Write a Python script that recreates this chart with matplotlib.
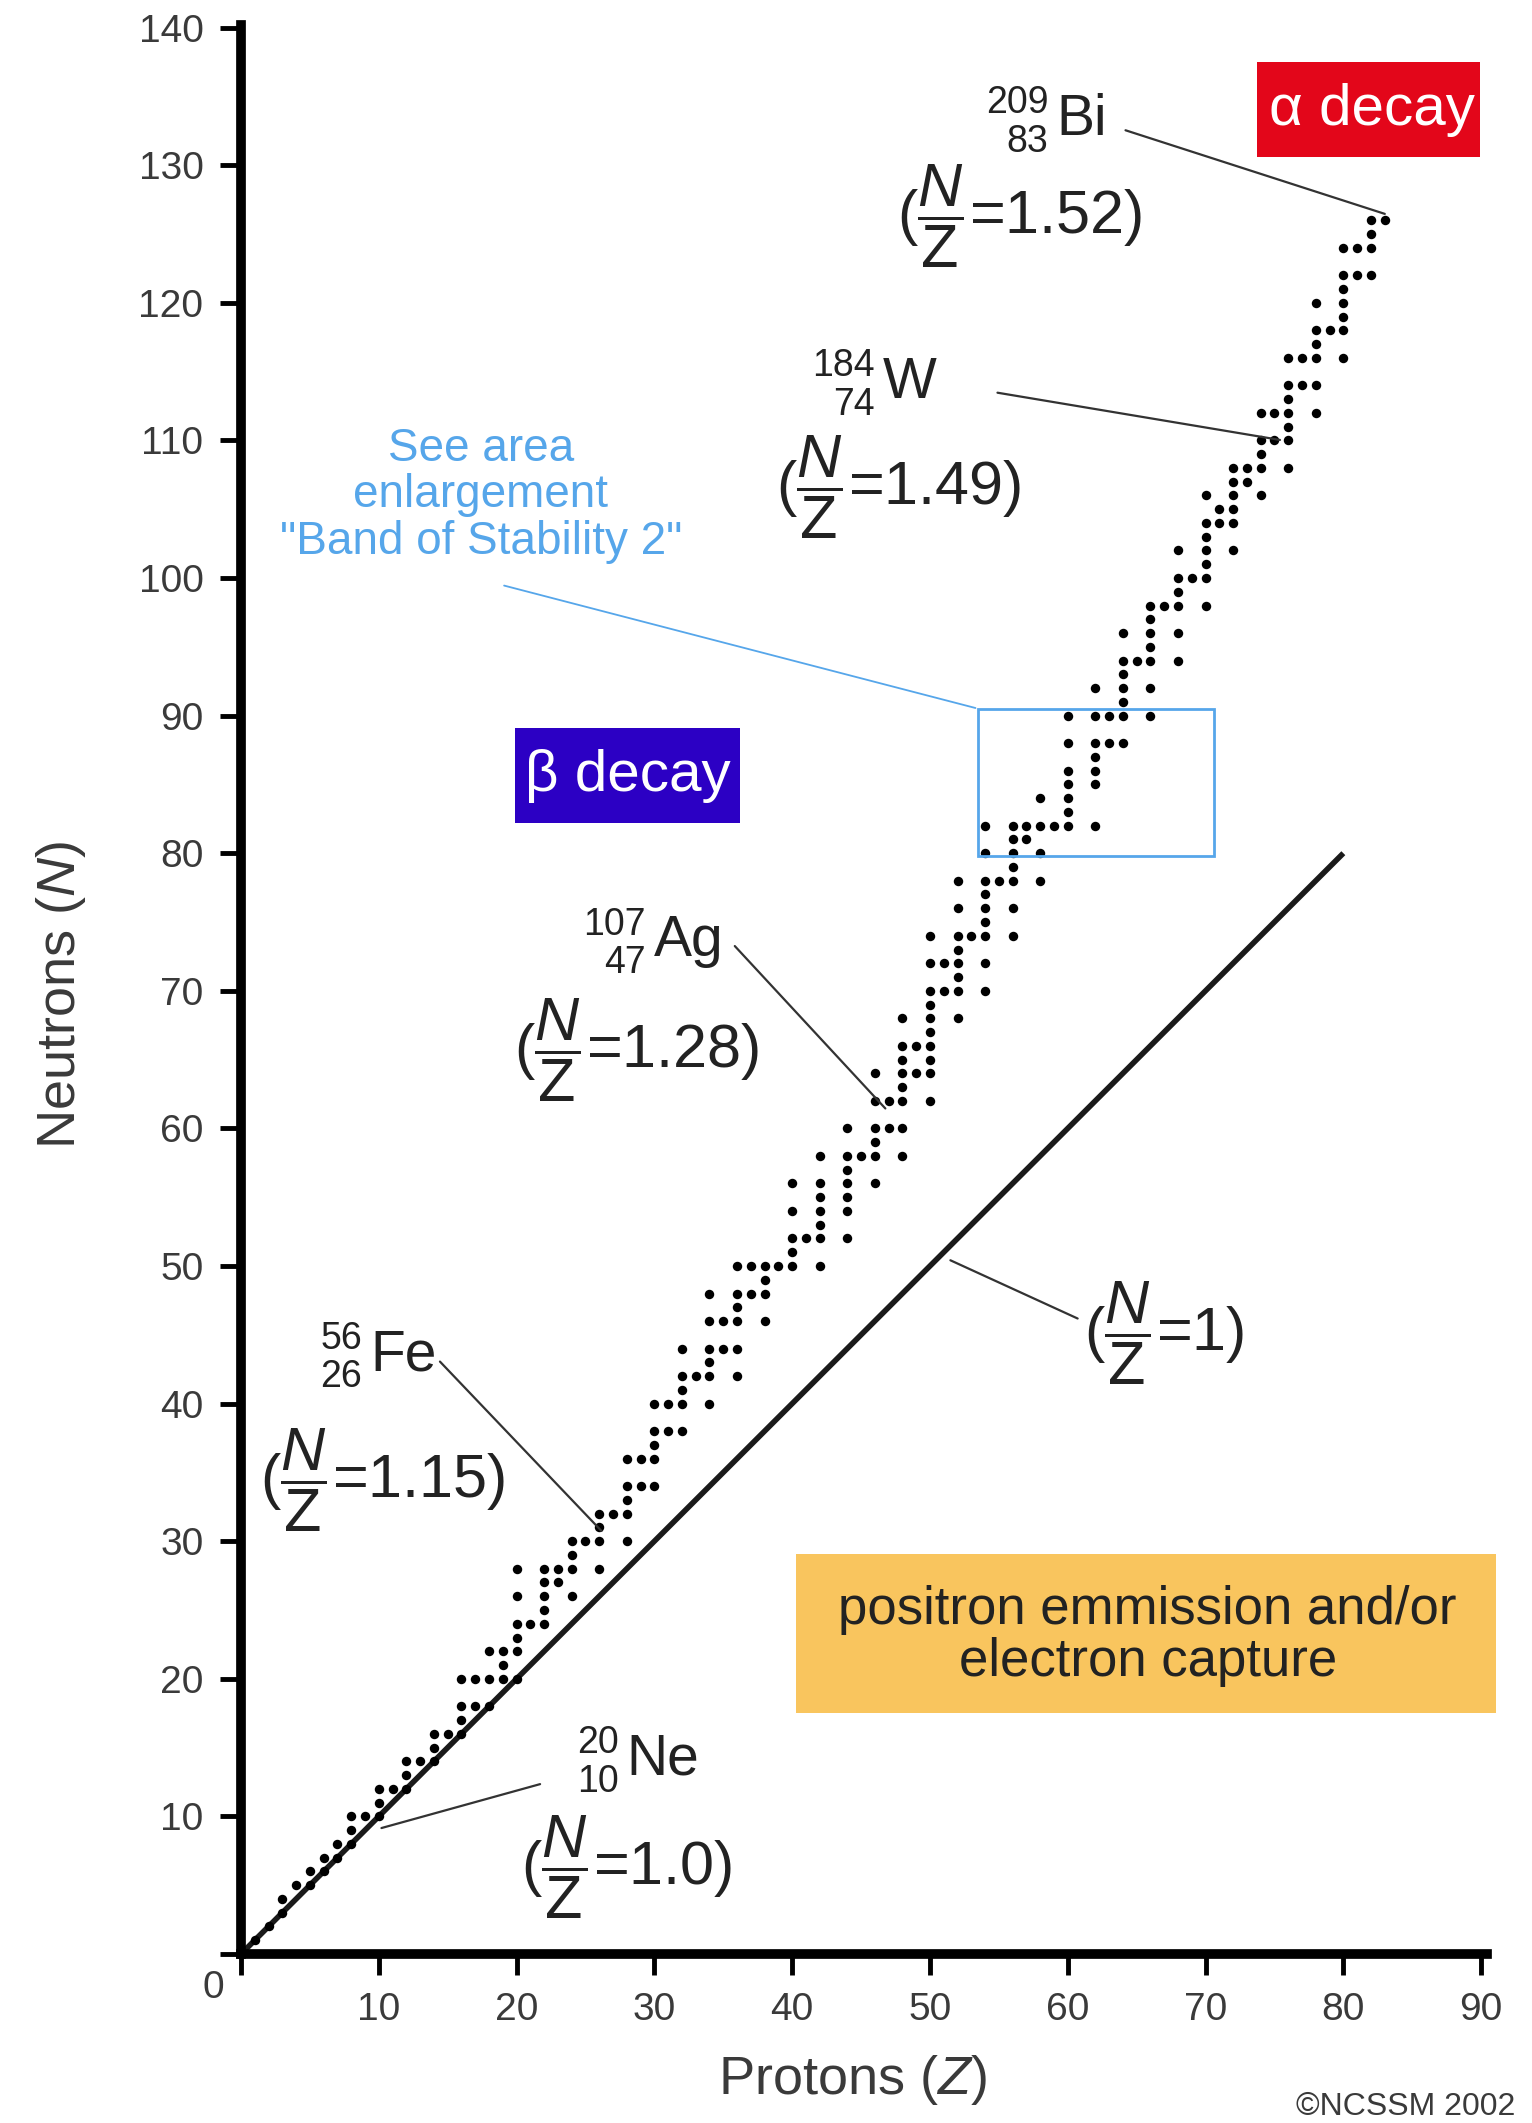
"""
Band of stability: neutrons vs protons for the stable nuclides
"""

import matplotlib.pyplot as plt
from matplotlib.patches import Rectangle

# ==========================================================
# Data
# ==========================================================

# neutron numbers of the stable nuclides, one list per element, Z = 1 .. 83
stable_neutrons = [
    [1], [2], [3, 4], [5], [5, 6], [6, 7], [7, 8], [8, 9, 10], [10],
    [10, 11, 12], [12], [12, 13, 14], [14], [14, 15, 16], [16],
    [16, 17, 18, 20], [18, 20], [18, 20, 22], [20, 21, 22],
    [20, 22, 23, 24, 26, 28], [24], [24, 25, 26, 27, 28], [27, 28],
    [26, 28, 29, 30], [30], [28, 30, 31, 32], [32], [30, 32, 33, 34, 36],
    [34, 36], [34, 36, 37, 38, 40], [38, 40], [38, 40, 41, 42, 44], [42],
    [40, 42, 43, 44, 46, 48], [44, 46], [42, 44, 46, 47, 48, 50], [48, 50],
    [46, 48, 49, 50], [50], [50, 51, 52, 54, 56], [52],
    [50, 52, 53, 54, 55, 56, 58], [], [52, 54, 55, 56, 57, 58, 60], [58],
    [56, 58, 59, 60, 62, 64], [60, 62], [58, 60, 62, 63, 64, 65, 66, 68],
    [64, 66], [62, 64, 65, 66, 67, 68, 69, 70, 72, 74], [70, 72],
    [68, 70, 71, 72, 73, 74, 76, 78], [74],
    [70, 72, 74, 75, 76, 77, 78, 80, 82], [78],
    [74, 76, 78, 79, 80, 81, 82], [81, 82], [78, 80, 82, 84], [82],
    [82, 83, 84, 85, 86, 88, 90], [], [82, 85, 86, 87, 88, 90, 92],
    [88, 90], [88, 90, 91, 92, 93, 94, 96], [94],
    [90, 92, 94, 95, 96, 97, 98], [98], [94, 96, 98, 99, 100, 102], [100],
    [98, 100, 101, 102, 103, 104, 106], [104, 105],
    [102, 104, 105, 106, 107, 108], [107, 108], [106, 108, 109, 110, 112],
    [110, 112], [108, 110, 111, 112, 113, 114, 116], [114, 116],
    [112, 114, 116, 117, 118, 120], [118],
    [116, 118, 119, 120, 121, 122, 124], [122, 124], [122, 124, 125, 126],
    [126],
]

x_ticks = [10, 20, 30, 40, 50, 60, 70, 80, 90]
y_ticks = [10, 20, 30, 40, 50, 60, 70, 80, 90, 100, 110, 120, 130, 140]

# N = Z reference line
ratio_one_z = [0, 80]
ratio_one_n = [0, 80]

# labelled nuclides: mass number, atomic number, symbol, N/Z text
iso_mass = ["209", "184", "107", "56", "20"]
iso_number = ["83", "74", "47", "26", "10"]
iso_symbol = ["Bi", "W", "Ag", "Fe", "Ne"]
iso_ratio = ["1.52", "1.49", "1.28", "1.15", "1.0"]

# ==========================================================
# Fonts
# ==========================================================

plt.rcParams["font.family"] = ["Liberation Sans", "DejaVu Sans"]
plt.rcParams["mathtext.fontset"] = "custom"
plt.rcParams["mathtext.rm"] = "Liberation Sans"
plt.rcParams["mathtext.it"] = "Liberation Sans:italic"
plt.rcParams["mathtext.bf"] = "Liberation Sans:bold"

TEXT = "#222222"
GREY = "#3a3a3a"
LIGHT_BLUE = "#56a6ea"

# ==========================================================
# Figure
# ==========================================================

fig = plt.figure(figsize=(15.32, 21.23), dpi=100)
ax = fig.add_axes([0.1573, 0.0796, 0.8131, 0.9087])

ax.set_xlim(0, 90.4)
ax.set_ylim(0, 140.2)

for side in ["top", "right"]:
    ax.spines[side].set_visible(False)
for side in ["left", "bottom"]:
    ax.spines[side].set_linewidth(7)
    ax.spines[side].set_color("black")

ax.set_xticks([0] + x_ticks)
ax.set_xticklabels([""] + [str(v) for v in x_ticks])
ax.set_yticks([0] + y_ticks)
ax.set_yticklabels([""] + [str(v) for v in y_ticks])
ax.tick_params(length=15, width=3.5, pad=12, labelsize=28,
               labelcolor=GREY, color="black")
ax.text(-2.0, -2.5, "0", fontsize=28, color=GREY,
        ha="center", va="center", clip_on=False)

ax.set_xlabel(r"Protons ($\mathit{Z}$)", fontsize=39, color=GREY)
ax.xaxis.set_label_coords(0.491, -0.0653)
ax.xaxis.label.set_va("center")
ax.set_ylabel(r"Neutrons ($\mathit{N}$)", fontsize=39, color=GREY)
ax.yaxis.set_label_coords(-0.1445, 0.497)
ax.yaxis.label.set_va("center")

# ==========================================================
# Stable nuclides and N = Z line
# ==========================================================

z_pts = []
n_pts = []
for z, n_list in enumerate(stable_neutrons, start=1):
    for n in n_list:
        z_pts.append(z)
        n_pts.append(n)

ax.plot(ratio_one_z, ratio_one_n, color="#1a1a1a", lw=4, zorder=2,
        solid_capstyle="butt")
ax.plot(z_pts, n_pts, "o", ms=6.8, color="black", mec="none", zorder=3,
        clip_on=False)

# ==========================================================
# Coloured decay boxes
# ==========================================================

alpha_box = Rectangle((73.7, 130.6), 16.2, 6.9, facecolor="#e3061a",
                      edgecolor="none", zorder=1, clip_on=False)
ax.add_patch(alpha_box)
t = ax.text(82.1, 134.0, "α decay", fontsize=42, color="white",
            ha="center", va="center", zorder=4)
t.set_clip_path(alpha_box)

ax.add_patch(Rectangle((19.9, 82.2), 16.3, 6.9, facecolor="#2c00c4",
                       edgecolor="none", zorder=1))
ax.text(28.1, 85.6, "β decay", fontsize=42, color="white",
        ha="center", va="center", zorder=4)

ax.add_patch(Rectangle((40.3, 17.5), 50.8, 11.6, facecolor="#f9c55e",
                       edgecolor="none", zorder=1, clip_on=False))
ax.text(65.8, 23.1, "positron emmission and/or\nelectron capture",
        fontsize=38, color=TEXT, ha="center", va="center",
        linespacing=1.05, zorder=4)

# ==========================================================
# Enlargement box
# ==========================================================

ax.add_patch(Rectangle((53.5, 79.8), 17.1, 10.7, fill=False,
                       edgecolor=LIGHT_BLUE, lw=2, zorder=4))
ax.text(17.4, 106.0, 'See area\nenlargement\n"Band of Stability 2"',
        fontsize=33, color=LIGHT_BLUE, ha="center", va="center",
        linespacing=1.08)
ax.annotate("", xy=(53.5, 90.5), xytext=(18.9, 99.5),
            arrowprops=dict(arrowstyle="-", color=LIGHT_BLUE, lw=1.3))

# ==========================================================
# Nuclide labels
# ==========================================================

# symbol position (left, centre), ratio text centre, leader start, leader end
symbol_pos = [(59.2, 133.3), (46.6, 114.2), (30.0, 73.6), (9.4, 43.5),
              (28.0, 14.1)]
ratio_pos = [(56.5, 126.3), (47.7, 106.6), (28.7, 65.7), (10.3, 34.4),
             (28.0, 6.3)]
leader_from = [(64.0, 132.6), (54.7, 113.5), (35.7, 73.4), (14.3, 43.2),
               (21.9, 12.4)]
leader_to = [(83.2, 126.4), (75.6, 110.0), (46.9, 61.3), (26.3, 30.6),
             (10.0, 9.1)]

for i in range(len(iso_symbol)):
    sx, sy = symbol_pos[i]
    ax.text(sx, sy, iso_symbol[i], fontsize=41, color=TEXT,
            ha="left", va="center")
    ax.text(sx - 0.6, sy + 1.2, iso_mass[i], fontsize=27, color=TEXT,
            ha="right", va="center")
    ax.text(sx - 0.6, sy - 1.6, iso_number[i], fontsize=27, color=TEXT,
            ha="right", va="center")
    rx, ry = ratio_pos[i]
    ax.text(rx, ry, r"$(\dfrac{\mathit{N}}{\mathrm{Z}}$=" + iso_ratio[i] + ")",
            fontsize=44, color=TEXT, ha="center", va="center")
    ax.annotate("", xy=leader_to[i], xytext=leader_from[i],
                arrowprops=dict(arrowstyle="-", color="#333333", lw=1.6))

# N/Z = 1 line label
ax.text(67.0, 45.1, r"$(\dfrac{\mathit{N}}{\mathrm{Z}}$=1)",
        fontsize=44, color=TEXT, ha="center", va="center")
ax.annotate("", xy=(51.3, 50.5), xytext=(60.9, 46.1),
            arrowprops=dict(arrowstyle="-", color="#333333", lw=1.6))

# copyright
ax.text(76.6, -11.1, "©NCSSM 2002", fontsize=23, color=GREY,
        ha="left", va="center", clip_on=False)

fig.savefig("out.png", dpi=100)
plt.close(fig)
